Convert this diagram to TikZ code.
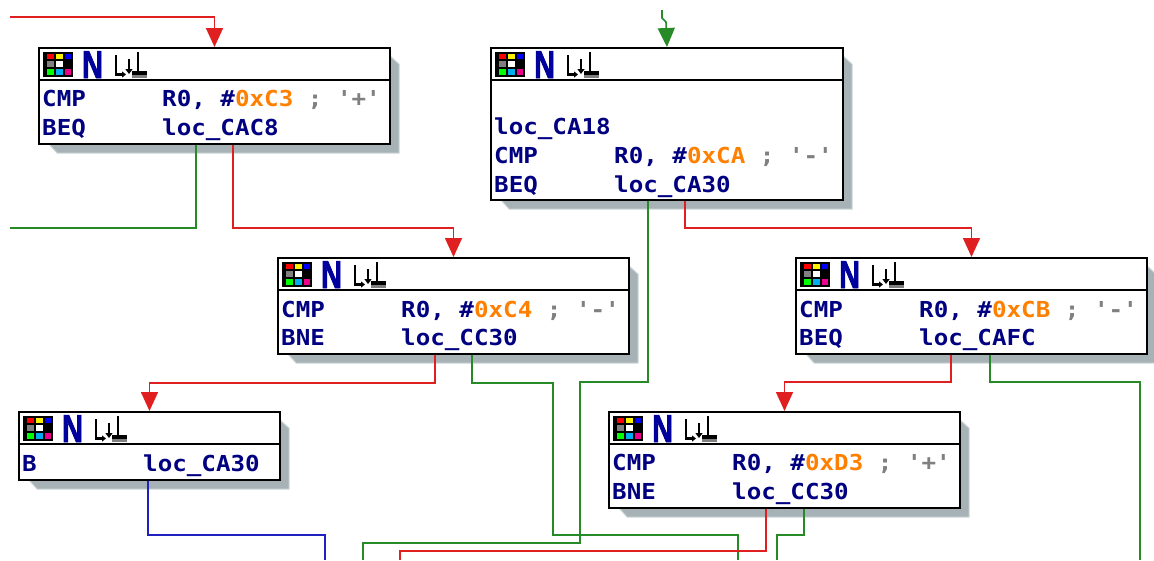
\documentclass[tikz,border=0pt]{standalone}
\usepackage{fontspec}
\setmonofont[FakeStretch=1.1]{DejaVu Sans Mono}
\newfontfamily\hdrfont[FakeStretch=0.74, FakeBold=2]{Liberation Sans}
\usetikzlibrary{arrows.meta}

\definecolor{asmblue}{HTML}{000080}
\definecolor{hdrblue}{HTML}{00009C}
\definecolor{immorange}{HTML}{FF8000}
\definecolor{cmtgray}{HTML}{808080}
\definecolor{shadowgray}{HTML}{A6B2B5}
\definecolor{shadowedge}{HTML}{CFD8DA}
\definecolor{edgered}{HTML}{E02020}
\definecolor{edgegreen}{HTML}{268A26}
\definecolor{edgeblue}{HTML}{2020C0}

\newcommand\imm[1]{\textcolor{immorange}{#1}}
\newcommand\cmt[1]{\textcolor{cmtgray}{#1}}

\tikzset{
  block/.style={draw, line width=2pt, fill=white, anchor=north west, inner sep=0pt},
  asm/.style={font=\ttfamily\bfseries\fontsize{22}{26}\selectfont, text=asmblue, inner sep=0pt, anchor=base west},
  tedge/.style={draw=edgegreen, line width=1.6pt},
  fedge/.style={draw=edgered, line width=1.6pt},
  uedge/.style={draw=edgeblue, line width=1.6pt},
  arr/.style={-{Triangle[width=17pt,length=19pt]}},
}

% name, x, y, width, height
\newcommand\idablock[5]{
  \filldraw[fill=shadowgray, draw=shadowedge, line width=1pt]
    (#2+10,#3+#5) -- (#2+19,#3+#5+10) -- (#2+#4+10,#3+#5+10) -- (#2+#4+10,#3+17) -- (#2+#4,#3+8) -- cycle;
  \node[block, minimum width=#4, minimum height=#5] (#1) at (#2,#3) {};
  \begin{scope}[shift={(#1.north west)}]
    \draw[line width=2pt] (0,33) -- (#4,33);
    \fill[black] (4.5,4.5) rectangle (35,29.5);
    \fill[red] (8.5,6.5) rectangle (16,12); \fill[yellow] (17.5,6.5) rectangle (25,12); \fill[blue] (26.5,6.5) rectangle (33,12);
    \fill[gray] (8.5,14) rectangle (16,20); \fill[white] (17.5,14) rectangle (25,20);
    \fill[green] (8.5,22) rectangle (16,27.5); \fill[cyan] (17.5,22) rectangle (25,27.5); \fill[magenta] (26.5,22) rectangle (33,27.5);
    \node[anchor=base west, inner sep=0pt, text=hdrblue, font=\hdrfont\bfseries\fontsize{39}{39}\selectfont] at (44,31) {N};
    \draw[line width=2.4pt, -{Triangle[width=6pt,length=4pt]}] (78,8) -- (78,27.5) -- (88,27.5);
    \draw[line width=2.4pt, -{Triangle[width=7pt,length=5pt]}] (91,12) -- (91,27);
    \draw[line width=2.4pt] (100,5) -- (100,25);
    \fill (94,24) rectangle (109,27.5);
    \fill[gray] (94,28) rectangle (109,31);
  \end{scope}
}

\begin{document}
\begin{tikzpicture}[x=1pt, y=-1pt]
  \useasboundingbox (0,0) rectangle (1154,560);

  \coordinate (inR) at (10,17);
  \coordinate (inG) at (662,10);
  \coordinate (outA) at (10,228);
  \coordinate (outB) at (363,560);
  \coordinate (outC) at (738,560);
  \coordinate (outD) at (1140,560);
  \coordinate (outE) at (325,560);
  \coordinate (outF1) at (400,560);
  \coordinate (outF2) at (777,560);

  \idablock{cmpC3}{38}{47}{351}{96}
  \idablock{cmpCA}{490}{47}{352}{152}
  \idablock{cmpC4}{277}{257}{351}{96}
  \idablock{cmpCB}{795}{257}{351}{96}
  \idablock{jmpCA30}{18}{411}{261}{68}
  \idablock{cmpD3}{608}{411}{351}{96}

  \node[asm] at ([shift={(4,59)}]cmpC3.north west) {CMP};
  \node[asm] at ([shift={(124,59)}]cmpC3.north west) {R0, \#\imm{0xC3} \cmt{; '+'}};
  \node[asm] at ([shift={(4,88)}]cmpC3.north west) {BEQ};
  \node[asm] at ([shift={(124,88)}]cmpC3.north west) {loc\_CAC8};

  \node[asm] at ([shift={(4,87)}]cmpCA.north west) {loc\_CA18};
  \node[asm] at ([shift={(4,116)}]cmpCA.north west) {CMP};
  \node[asm] at ([shift={(124,116)}]cmpCA.north west) {R0, \#\imm{0xCA} \cmt{; '-'}};
  \node[asm] at ([shift={(4,145)}]cmpCA.north west) {BEQ};
  \node[asm] at ([shift={(124,145)}]cmpCA.north west) {loc\_CA30};

  \node[asm] at ([shift={(4,60)}]cmpC4.north west) {CMP};
  \node[asm] at ([shift={(124,60)}]cmpC4.north west) {R0, \#\imm{0xC4} \cmt{; '-'}};
  \node[asm] at ([shift={(4,88)}]cmpC4.north west) {BNE};
  \node[asm] at ([shift={(124,88)}]cmpC4.north west) {loc\_CC30};

  \node[asm] at ([shift={(4,60)}]cmpCB.north west) {CMP};
  \node[asm] at ([shift={(124,60)}]cmpCB.north west) {R0, \#\imm{0xCB} \cmt{; '-'}};
  \node[asm] at ([shift={(4,88)}]cmpCB.north west) {BEQ};
  \node[asm] at ([shift={(124,88)}]cmpCB.north west) {loc\_CAFC};

  \node[asm] at ([shift={(4,60)}]jmpCA30.north west) {B};
  \node[asm] at ([shift={(125,60)}]jmpCA30.north west) {loc\_CA30};

  \node[asm] at ([shift={(4,59)}]cmpD3.north west) {CMP};
  \node[asm] at ([shift={(124,59)}]cmpD3.north west) {R0, \#\imm{0xD3} \cmt{; '+'}};
  \node[asm] at ([shift={(4,88)}]cmpD3.north west) {BNE};
  \node[asm] at ([shift={(124,88)}]cmpD3.north west) {loc\_CC30};

  \draw[fedge, arr] (inR) -| (cmpC3.north);
  \draw[tedge, arr] (inG) -- (662,18) -- (666,22) -- (cmpCA.north);
  \draw[tedge] (196,0 |- cmpC3.south) |- (outA);
  \draw[fedge, arr] (233,0 |- cmpC3.south) -- (233,228) -| (cmpC4.north);
  \draw[tedge] (648,0 |- cmpCA.south) |- (580,382) |- (363,543) -- (outB);
  \draw[fedge, arr] (685,0 |- cmpCA.south) -- (685,228) -| (cmpCB.north);
  \draw[fedge, arr] (435,0 |- cmpC4.south) -- (435,383) -| (jmpCA30.north);
  \draw[tedge] (472,0 |- cmpC4.south) |- (553,383) |- (738,535) -- (outC);
  \draw[fedge, arr] (951,0 |- cmpCB.south) -- (951,382) -| (cmpD3.north);
  \draw[tedge] (990,0 |- cmpCB.south) |- (1140,382) -- (outD);
  \draw[uedge] (148,0 |- jmpCA30.south) |- (325,535) -- (outE);
  \draw[fedge] (766,0 |- cmpD3.south) |- (400,551) -- (outF1);
  \draw[tedge] (804,0 |- cmpD3.south) |- (777,535) -- (outF2);
\end{tikzpicture}
\end{document}
